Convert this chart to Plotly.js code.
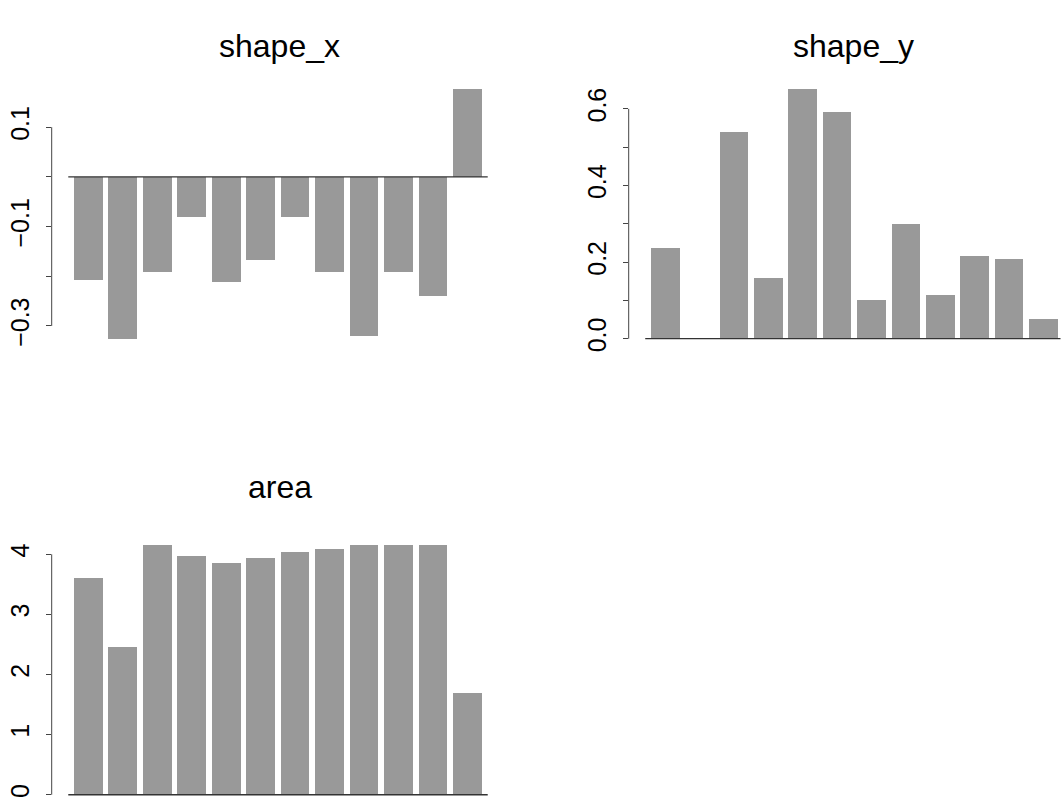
<!DOCTYPE html>
<html>
<head>
<meta charset="utf-8">
<script src="https://cdn.plot.ly/plotly-3.0.1.min.js"></script>
<style>html,body{margin:0;padding:0;background:#fff;}#chart{width:1063px;height:802px;}</style>
</head>
<body>
<div id="chart"></div>
<script>
// Data
const categories = ["1","2","3","4","5","6","7","8","9","10","11","12"];
const shapeX = [-0.207, -0.327, -0.192, -0.080, -0.212, -0.167, -0.080, -0.192, -0.321, -0.192, -0.240, 0.177];
const shapeY = [0.237, 0.0, 0.540, 0.159, 0.652, 0.592, 0.101, 0.300, 0.114, 0.216, 0.208, 0.051];
const area = [3.606, 2.458, 4.155, 3.972, 3.855, 3.938, 4.038, 4.088, 4.155, 4.155, 4.155, 1.692];
const titles = ["shape_x", "shape_y", "area"];
const ticksX = [0.1, 0.0, -0.1, -0.2, -0.3];
const ticksXText = ["0.1", "", "\u22120.1", "", "\u22120.3"];
const ticksY = [0.0, 0.1, 0.2, 0.3, 0.4, 0.5, 0.6];
const ticksYText = ["0.0", "", "0.2", "", "0.4", "", "0.6"];
const ticksA = [0, 1, 2, 3, 4];
const ticksAText = ["0", "1", "2", "3", "4"];

// R barplot positions: width 1, space 0.2
const pos = categories.map((c, i) => 0.7 + 1.2 * i);
const W = 1063, H = 802;
const barColor = "#999999";
const lineColor = "#444444";
const font = "Liberation Sans, Arial, Helvetica, sans-serif";

function bar(vals, xa, ya) {
  return {type: "bar", x: pos, y: vals, width: 1, xaxis: xa, yaxis: ya,
    marker: {color: barColor, line: {width: 0}}, hoverinfo: "y", showlegend: false,
    customdata: categories};
}
const data = [bar(shapeX, "x", "y"), bar(shapeY, "x2", "y2"), bar(area, "x3", "y3")];

function yax(domainPx, range, tv, tt) {
  return {domain: [1 - domainPx[1] / H, 1 - domainPx[0] / H], range: range, fixedrange: true,
    showgrid: false, zeroline: false, showline: false, ticks: "outside", ticklen: 5,
    tickwidth: 1, tickcolor: lineColor, tickvals: tv, ticktext: tt, tickangle: -90,
    ticklabelstandoff: 7,
    tickfont: {family: font, size: 25, color: "#000"}};
}
function xax(domainPx, range) {
  return {domain: [domainPx[0] / W, Math.min(1, domainPx[1] / W)], range: range, visible: false, fixedrange: true};
}
const x1 = [-0.577, 14.968];
const x2 = [-0.577, -0.577 + (W - 628.7) / 28.64];
const layout = {
  width: W, height: H, margin: {l: 0, r: 0, t: 0, b: 0},
  paper_bgcolor: "#fff", plot_bgcolor: "rgba(0,0,0,0)", bargap: 0,
  xaxis: xax([51.7, 498], x1),
  yaxis: Object.assign(yax([79, 349.8], [-0.348, 0.197], ticksX, ticksXText), {anchor: "x"}),
  xaxis2: xax([628.7, 1063], x2),
  yaxis2: Object.assign(yax([79, 349.8], [-0.029, 0.678], ticksY, ticksYText), {anchor: "x2"}),
  xaxis3: xax([51.7, 498], x1),
  yaxis3: Object.assign(yax([535, 802], [-0.121, 4.321], ticksA, ticksAText), {anchor: "x3"}),
  shapes: [
    // y axis lines spanning tick range (R style)
    {type: "line", xref: "x domain", yref: "y", x0: 0, x1: 0, y0: -0.3, y1: 0.1, line: {color: lineColor, width: 1}},
    {type: "line", xref: "x2 domain", yref: "y2", x0: 0, x1: 0, y0: 0, y1: 0.6, line: {color: lineColor, width: 1}},
    {type: "line", xref: "x3 domain", yref: "y3", x0: 0, x1: 0, y0: 0, y1: 4, line: {color: lineColor, width: 1}},
    // baseline lines at zero
    {type: "line", xref: "x", yref: "y", x0: 0, x1: 14.61, y0: 0, y1: 0, line: {color: "#333", width: 1.3}},
    {type: "line", xref: "x2", yref: "y2", x0: 0, x1: 14.5, y0: 0, y1: 0, line: {color: "#333", width: 1.3}},
    {type: "line", xref: "x3", yref: "y3", x0: 0, x1: 14.61, y0: 0, y1: 0, line: {color: "#333", width: 1.3}}
  ],
  annotations: [
    {text: titles[0], xref: "paper", yref: "paper", x: 279 / W, y: 1 - 46 / H, xanchor: "center", yanchor: "middle", showarrow: false, font: {family: font, size: 32, color: "#000"}},
    {text: titles[1], xref: "paper", yref: "paper", x: 853 / W, y: 1 - 46 / H, xanchor: "center", yanchor: "middle", showarrow: false, font: {family: font, size: 32, color: "#000"}},
    {text: titles[2], xref: "paper", yref: "paper", x: 280 / W, y: 1 - 487 / H, xanchor: "center", yanchor: "middle", showarrow: false, font: {family: font, size: 32, color: "#000"}}
  ]
};
Plotly.newPlot("chart", data, layout, {staticPlot: true, displayModeBar: false});
</script>
</body>
</html>
